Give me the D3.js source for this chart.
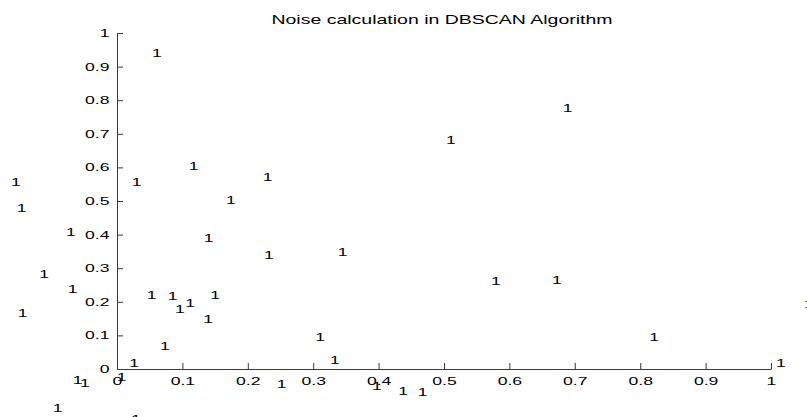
<!DOCTYPE html>
<html lang="en">
  <head>
    <meta charset="utf-8" />
    <title>Noise calculation in DBSCAN Algorithm</title>
    <script src="https://d3js.org/d3.v7.min.js"></script>
    <style>
      body { margin: 0; background: #fff; }
      text { font-family: "Liberation Sans", Arial, sans-serif; fill: #000; }
    </style>
  </head>
  <body>
    <script>
      // labels drawn as text "1" at each point (MATLAB text(x,y,'1'))
      var xs = [0.0535, 0.6815, 0.503, 0.1096, 0.2228, -0.162, 0.0225, 0.1667, -0.1534, -0.078,
                0.1326, -0.1188, 0.3375, 0.2248, 0.5719, 0.665, -0.0754, 0.0454, 0.0775, 0.1427,
                0.1044, 0.0887, -0.1518, 0.132, 0.3032, 0.8139, 0.0657, 0.3257, 0.0188, 1.0076,
                -0.0005, -0.0677, -0.0566, 0.2442, 0.3899, 0.4301, 0.4598, -0.0983, 0.0214, 1.0505];
      var ys = [0.941, 0.776, 0.6815, 0.604, 0.5705, 0.5574, 0.5574, 0.503, 0.4783, 0.4086,
                0.3908, 0.2818, 0.3473, 0.3393, 0.2619, 0.2649, 0.2372, 0.2202, 0.2173, 0.2202,
                0.1955, 0.1777, 0.1658, 0.1479, 0.0961, 0.0943, 0.0693, 0.0268, 0.017, 0.0188,
                -0.0229, -0.0327, -0.0426, -0.0446, -0.0506, -0.0646, -0.0676, -0.117, -0.149, 0.193];
      var labels = xs.map(function () { return "1"; });
      var ticks = [0, 0.1, 0.2, 0.3, 0.4, 0.5, 0.6, 0.7, 0.8, 0.9, 1];
      var title = "Noise calculation in DBSCAN Algorithm";

      var width = 807, height = 417;
      var sx = 1.6; // the original picture is stretched sideways

      var x = d3.scaleLinear().domain([0, 1]).range([117, 771]);
      var y = d3.scaleLinear().domain([0, 1]).range([369, 33]);

      var svg = d3.select("body").append("svg")
        .attr("width", width)
        .attr("height", height);

      var xAxis = svg.append("g")
        .attr("transform", "translate(0," + y(0) + ")")
        .call(d3.axisBottom(x).tickValues(ticks).tickFormat(d3.format("~g"))
          .tickSizeInner(-6).tickSizeOuter(0).tickPadding(8));
      xAxis.selectAll("text")
        .attr("font-size", 11)
        .attr("font-family", null)
        .attr("transform", "scale(" + sx + ",1)");

      var yAxis = svg.append("g")
        .attr("transform", "translate(" + x(0) + ",0)")
        .call(d3.axisLeft(y).tickValues(ticks).tickFormat(d3.format("~g"))
          .tickSizeInner(-6).tickSizeOuter(0).tickPadding(7.5));
      yAxis.selectAll("text")
        .attr("font-size", 11)
        .attr("font-family", null)
        .attr("x", -7.5 / sx)
        .attr("transform", "scale(" + sx + ",1)");

      svg.selectAll(".domain, .tick line").attr("stroke", "#3a3a3a");

      svg.selectAll(".pt")
        .data(labels)
        .enter()
        .append("text")
        .attr("class", "pt")
        .attr("font-size", 11)
        .attr("transform", function (d, i) {
          return "translate(" + x(xs[i]) + "," + y(ys[i]) + ") scale(" + sx + ",1)";
        })
        .attr("dy", "0.36em")
        .text(function (d) { return d; });

      svg.append("text")
        .attr("transform", "translate(442,23.5) scale(1.5,1)")
        .attr("text-anchor", "middle")
        .attr("font-size", 13)
        .text(title);
    </script>
  </body>
</html>
